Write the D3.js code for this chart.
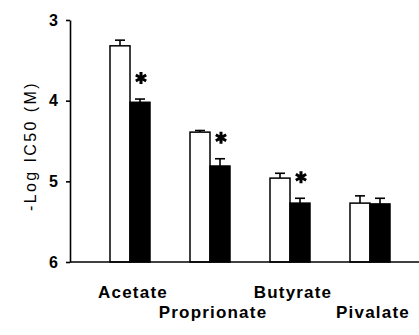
<!DOCTYPE html>
<html>
<head>
<meta charset="utf-8">
<script src="https://cdn.jsdelivr.net/npm/d3@7"></script>
<style>
  body { margin: 0; background: #fff; }
  svg { display: block; }
  text { font-family: "Liberation Sans", Arial, sans-serif; fill: #000; }
</style>
</head>
<body>
<svg width="419" height="335"></svg>
<script>
var categories = ["Acetate", "Proprionate", "Butyrate", "Pivalate"];
var series = ["control", "treated"];
var controlValues = [3.32, 4.39, 4.96, 5.27];
var controlErrors = [0.07, 0.02, 0.06, 0.09];
var treatedValues = [4.02, 4.81, 5.27, 5.28];
var treatedErrors = [0.04, 0.09, 0.06, 0.07];
var significant = [true, true, true, false];
var yTicks = [3, 4, 5, 6];

var svg = d3.select("svg"),
    width = +svg.attr("width"),
    height = +svg.attr("height");

var x = d3.scaleBand()
    .domain(categories)
    .range([90, 410]);

var xInner = d3.scaleBand()
    .domain(series)
    .range([20, 60]);

var y = d3.scaleLinear()
    .domain([3, 6])
    .range([20, 262]);

var rows = [];
categories.forEach(function (c, i) {
    rows.push({cat: c, s: "control", v: controlValues[i], e: controlErrors[i], star: false});
    rows.push({cat: c, s: "treated", v: treatedValues[i], e: treatedErrors[i], star: significant[i]});
});

// error bars (upwards only)
var err = svg.append("g")
    .attr("stroke", "#000")
    .attr("stroke-width", 1.6)
    .selectAll("g")
    .data(rows)
    .enter().append("g")
    .attr("transform", function (d) {
        return "translate(" + (x(d.cat) + xInner(d.s) + xInner.bandwidth() / 2) + ",0)";
    });
err.append("line")
    .attr("y1", function (d) { return y(d.v); })
    .attr("y2", function (d) { return y(d.v - d.e); });
err.append("line")
    .attr("x1", -5).attr("x2", 5)
    .attr("y1", function (d) { return y(d.v - d.e); })
    .attr("y2", function (d) { return y(d.v - d.e); });

// bars
svg.append("g")
    .selectAll("rect")
    .data(rows)
    .enter().append("rect")
    .attr("x", function (d) { return x(d.cat) + xInner(d.s); })
    .attr("y", function (d) { return y(d.v); })
    .attr("width", xInner.bandwidth())
    .attr("height", function (d) { return y(6) - y(d.v); })
    .attr("fill", function (d) { return d.s == "control" ? "#fff" : "#000"; })
    .attr("stroke", "#000")
    .attr("stroke-width", 1.5);

// significance stars
svg.append("g")
    .selectAll("path")
    .data(rows.filter(function (d) { return d.star; }))
    .enter().append("path")
    .attr("d", d3.symbol().type(d3.symbolAsterisk).size(100))
    .attr("transform", function (d) {
        return "translate(" + (x(d.cat) + xInner(d.s) + xInner.bandwidth() / 2 + 1) + "," + (y(d.v - d.e) - 21) + ")";
    })
    .attr("fill", "none")
    .attr("stroke", "#000")
    .attr("stroke-width", 3);

// y axis
var yAxis = svg.append("g")
    .attr("transform", "translate(70,0)")
    .call(d3.axisLeft(y).tickValues(yTicks).tickFormat(d3.format("d"))
        .tickSize(4).tickSizeOuter(0).tickPadding(8));
yAxis.select(".domain").attr("stroke-width", 1.6);
yAxis.selectAll(".tick line").attr("stroke-width", 1.6);
yAxis.selectAll(".tick text")
    .style("font-family", "'Liberation Sans', Arial, sans-serif")
    .style("font-size", "16px")
    .style("font-weight", "bold");

// x axis line
svg.append("line")
    .attr("x1", 70).attr("x2", width)
    .attr("y1", y(6)).attr("y2", y(6))
    .attr("stroke", "#000")
    .attr("stroke-width", 1.6);

// category labels, staggered
svg.append("g")
    .selectAll("text")
    .data(categories)
    .enter().append("text")
    .attr("x", function (d) { return x(d) + x.bandwidth() / 2 + 3; })
    .attr("y", function (d, i) { return i % 2 == 0 ? 298 : 318; })
    .attr("text-anchor", "middle")
    .style("font-size", "17px")
    .style("font-weight", "bold")
    .style("letter-spacing", "1.2px")
    .text(function (d) { return d; });

// y label
svg.append("text")
    .attr("transform", "translate(36,146) rotate(-90)")
    .attr("text-anchor", "middle")
    .style("font-size", "16px")
    .style("letter-spacing", "2.4px")
    .text("-Log IC50 (M)");
</script>
</body>
</html>
